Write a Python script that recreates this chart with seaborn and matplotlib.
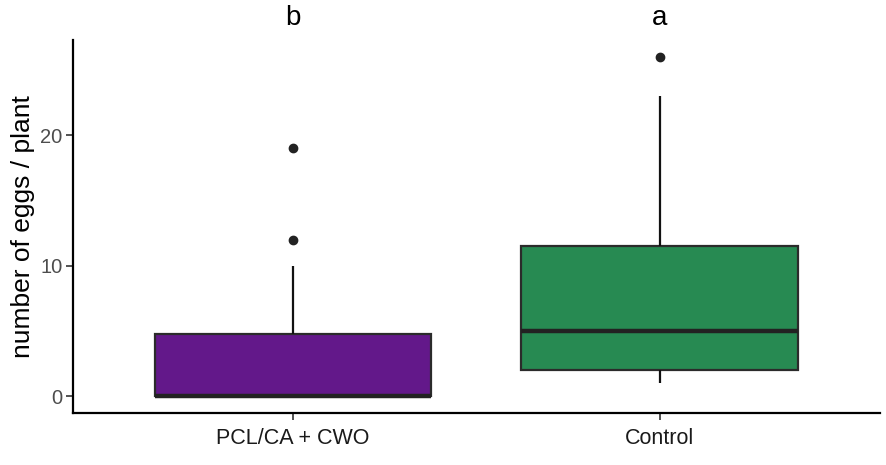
import pandas as pd
import seaborn as sns
import matplotlib
matplotlib.use("Agg")
import matplotlib.pyplot as plt

sns.set_theme(style="ticks")
plt.rcParams['font.family'] = ['Liberation Sans', 'DejaVu Sans']

# Data: eggs per plant for each treatment (values chosen to match the box summary)
treatments = ["PCL/CA + CWO", "Control"]
eggs_pcl = [0, 0, 0, 0, 0, 0, 0, 0, 0, 0, 0, 1, 2, 3, 4, 7, 8, 10, 12, 19]
eggs_control = [1, 1, 1, 2, 2, 2, 3, 3, 4, 5, 5, 6, 8, 9, 10, 16, 18, 20, 23, 26]
letters = ["b", "a"]
colors = ["#63188A", "#278A52"]

df = pd.DataFrame({
    "treatment": [treatments[0]] * len(eggs_pcl) + [treatments[1]] * len(eggs_control),
    "eggs": eggs_pcl + eggs_control,
})

fig = plt.figure(figsize=(8.86, 4.65), dpi=100)
ax = fig.add_axes([0.0824, 0.112, 0.9106, 0.802])

sns.boxplot(data=df, x="treatment", y="eggs", hue="treatment", order=treatments,
            hue_order=treatments, palette=colors, saturation=1, width=0.755,
            whis=1.5, showcaps=False, legend=False, ax=ax,
            boxprops=dict(edgecolor="#2b2b2b", linewidth=1.6),
            whiskerprops=dict(color="#111111", linewidth=1.6),
            medianprops=dict(color="#222222", linewidth=3.2),
            flierprops=dict(marker="o", markerfacecolor="#222222",
                            markeredgecolor="#222222", markersize=6))

# significance letters above each box
for i, lab in enumerate(letters):
    ax.text(i, 1.06, lab, transform=ax.get_xaxis_transform(), ha="center",
            va="center", fontsize=20, color="black", clip_on=False)

ax.set_xlim(-0.6, 1.6)
ax.set_ylim(-1.26, 27.3)
ax.set_yticks([0, 10, 20])
ax.set_xlabel("")
ax.set_ylabel("number of eggs / plant", fontsize=19, color="black", labelpad=4)
sns.despine(ax=ax)
for s in ["left", "bottom"]:
    ax.spines[s].set_linewidth(1.6)
    ax.spines[s].set_color("black")
ax.tick_params(axis="both", length=5, width=1.2, color="#333333")
ax.tick_params(axis="y", labelsize=14.5, labelcolor="#4D4D4D", pad=2.5)
ax.tick_params(axis="x", labelsize=15.5, labelcolor="#1a1a1a", pad=6)

fig.savefig("out.png", dpi=100)
